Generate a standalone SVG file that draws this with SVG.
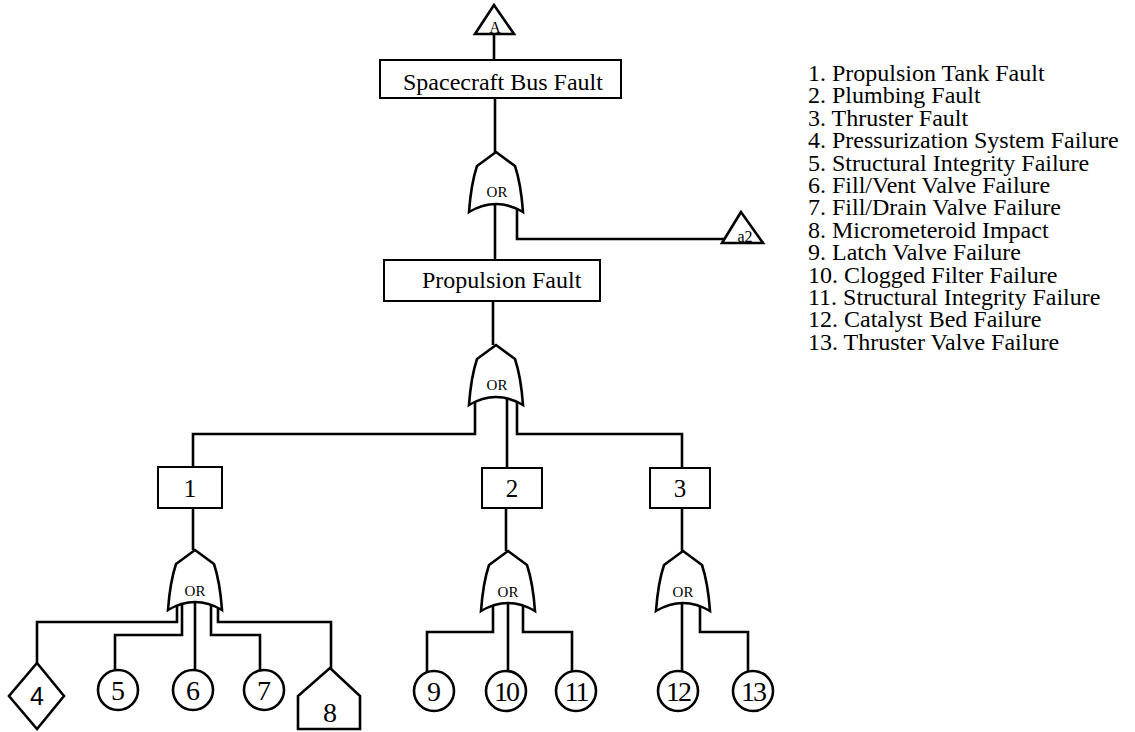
<svg xmlns="http://www.w3.org/2000/svg" width="1135" height="732" viewBox="0 0 1135 732">
  <style>
    .ln { fill: none; stroke: #000; stroke-width: 2.6; stroke-linejoin: miter; }
    .shp { fill: #fff; stroke: #000; stroke-width: 2.6; stroke-linejoin: miter; }
    .box { fill: #fff; stroke: #000; stroke-width: 2; }
    .t { font-family: "Liberation Serif", "Times New Roman", serif; fill: #000; }
    .lbl { font-size: 24px; }
    .num { font-size: 28px; text-anchor: middle; }
    .bnum { font-size: 25px; text-anchor: middle; }
    .or { font-size: 15px; text-anchor: middle; }
    .leg { font-size: 24px; }
  </style>
  <defs>
    <!-- OR gate outline, apex at origin -->
    <path id="orgate" d="M0,0 L19,14 Q25,32 27,60 Q0,44 -27,60 Q-25,32 -19,14 Z"/>
  </defs>
  <rect width="1135" height="732" fill="#fff"/>

  <!-- connectors -->
  <g id="connectors" class="ln">
    <path d="M494,34 V60"/>
    <path d="M495,98 V152"/>
    <path d="M495,200 V260"/>
    <path d="M517,200 V239 H728"/>
    <path d="M493,301 V345"/>
    <path d="M475,395 V434 H193 V467"/>
    <path d="M507,395 V468"/>
    <path d="M517,395 V434 H682 V468"/>
    <path d="M193,508 V550"/>
    <path d="M177,600 V622 H37 V663"/>
    <path d="M182,600 V635 H115 V672"/>
    <path d="M195,600 V672"/>
    <path d="M211,600 V635 H260 V672"/>
    <path d="M218,600 V622 H331 V668"/>
    <path d="M506,508 V551"/>
    <path d="M493,600 V632 H427 V673"/>
    <path d="M508,600 V673"/>
    <path d="M523,600 V632 H572 V673"/>
    <path d="M682,508 V551"/>
    <path d="M682,600 V673"/>
    <path d="M700,600 V632 H748 V673"/>
  </g>

  <!-- transfer triangles -->
  <g id="transfer-A">
    <polygon class="shp" points="494,5 475,34 514,34"/>
    <text class="t" x="495" y="33" font-size="16" text-anchor="middle">A</text>
  </g>
  <g id="transfer-a2">
    <polygon class="shp" points="741,212 722,243 763,243"/>
    <text class="t" x="745" y="242" font-size="16" text-anchor="middle">a2</text>
  </g>

  <!-- events -->
  <g id="spacecraft-bus-fault">
    <rect class="box" x="380" y="60" width="241" height="38"/>
    <text class="t lbl" x="403" y="90">Spacecraft Bus Fault</text>
  </g>
  <g id="gate-top">
    <use href="#orgate" class="shp" x="496" y="152"/>
    <text class="t or" x="497" y="197">OR</text>
  </g>
  <g id="propulsion-fault">
    <rect class="box" x="384" y="260" width="216" height="41"/>
    <text class="t lbl" x="422" y="288">Propulsion Fault</text>
  </g>
  <g id="gate-propulsion">
    <use href="#orgate" class="shp" x="496" y="345"/>
    <text class="t or" x="497" y="390">OR</text>
  </g>

  <g id="event-1">
    <rect class="box" x="158" y="467" width="64" height="41"/>
    <text class="t bnum" x="190" y="497">1</text>
  </g>
  <g id="event-2">
    <rect class="box" x="482" y="468" width="60" height="40"/>
    <text class="t bnum" x="512" y="497">2</text>
  </g>
  <g id="event-3">
    <rect class="box" x="650" y="468" width="60" height="40"/>
    <text class="t bnum" x="680" y="497">3</text>
  </g>

  <g id="gate-1">
    <use href="#orgate" class="shp" x="195" y="550"/>
    <text class="t or" x="195" y="596">OR</text>
  </g>
  <g id="gate-2">
    <use href="#orgate" class="shp" x="508" y="551"/>
    <text class="t or" x="508" y="597">OR</text>
  </g>
  <g id="gate-3">
    <use href="#orgate" class="shp" x="683" y="551"/>
    <text class="t or" x="683" y="597">OR</text>
  </g>

  <!-- basic / undeveloped events -->
  <g id="event-4">
    <polygon class="shp" points="37,663 64,696 37,729 9,696"/>
    <text x="37" y="705" font-family="Liberation Sans, Arial, sans-serif" font-size="25" text-anchor="middle">4</text>
  </g>
  <g id="event-5">
    <circle class="shp" cx="118" cy="690" r="20"/>
    <text class="t num" x="118" y="700">5</text>
  </g>
  <g id="event-6">
    <circle class="shp" cx="193" cy="690" r="20"/>
    <text class="t num" x="193" y="700">6</text>
  </g>
  <g id="event-7">
    <circle class="shp" cx="264" cy="690" r="20"/>
    <text class="t num" x="264" y="700">7</text>
  </g>
  <g id="event-8">
    <polygon class="shp" points="330,668 360,696 360,729 298,729 298,696"/>
    <text class="t num" x="330" y="722">8</text>
  </g>
  <g id="event-9">
    <circle class="shp" cx="434" cy="691" r="20"/>
    <text class="t num" x="434" y="701">9</text>
  </g>
  <g id="event-10">
    <circle class="shp" cx="506" cy="691" r="20"/>
    <text class="t num" x="506" y="701" letter-spacing="-2">10</text>
  </g>
  <g id="event-11">
    <circle class="shp" cx="576" cy="691" r="20"/>
    <text class="t num" x="576" y="701" letter-spacing="-2">11</text>
  </g>
  <g id="event-12">
    <circle class="shp" cx="678" cy="691" r="20"/>
    <text class="t num" x="678" y="701" letter-spacing="-2">12</text>
  </g>
  <g id="event-13">
    <circle class="shp" cx="753" cy="691" r="20"/>
    <text class="t num" x="753" y="701" letter-spacing="-2">13</text>
  </g>

  <!-- key -->
  <g id="legend" class="t leg">
    <text x="808" y="81">1. Propulsion Tank Fault</text>
    <text x="808" y="103.4">2. Plumbing Fault</text>
    <text x="808" y="125.8">3. Thruster Fault</text>
    <text x="808" y="148.2">4. Pressurization System Failure</text>
    <text x="808" y="170.6">5. Structural Integrity Failure</text>
    <text x="808" y="193">6. Fill/Vent Valve Failure</text>
    <text x="808" y="215.4">7. Fill/Drain Valve Failure</text>
    <text x="808" y="237.8">8. Micrometeroid Impact</text>
    <text x="808" y="260.2">9. Latch Valve Failure</text>
    <text x="808" y="282.6">10. Clogged Filter Failure</text>
    <text x="808" y="305">11. Structural Integrity Failure</text>
    <text x="808" y="327.4">12. Catalyst Bed Failure</text>
    <text x="808" y="349.8">13. Thruster Valve Failure</text>
  </g>
</svg>
